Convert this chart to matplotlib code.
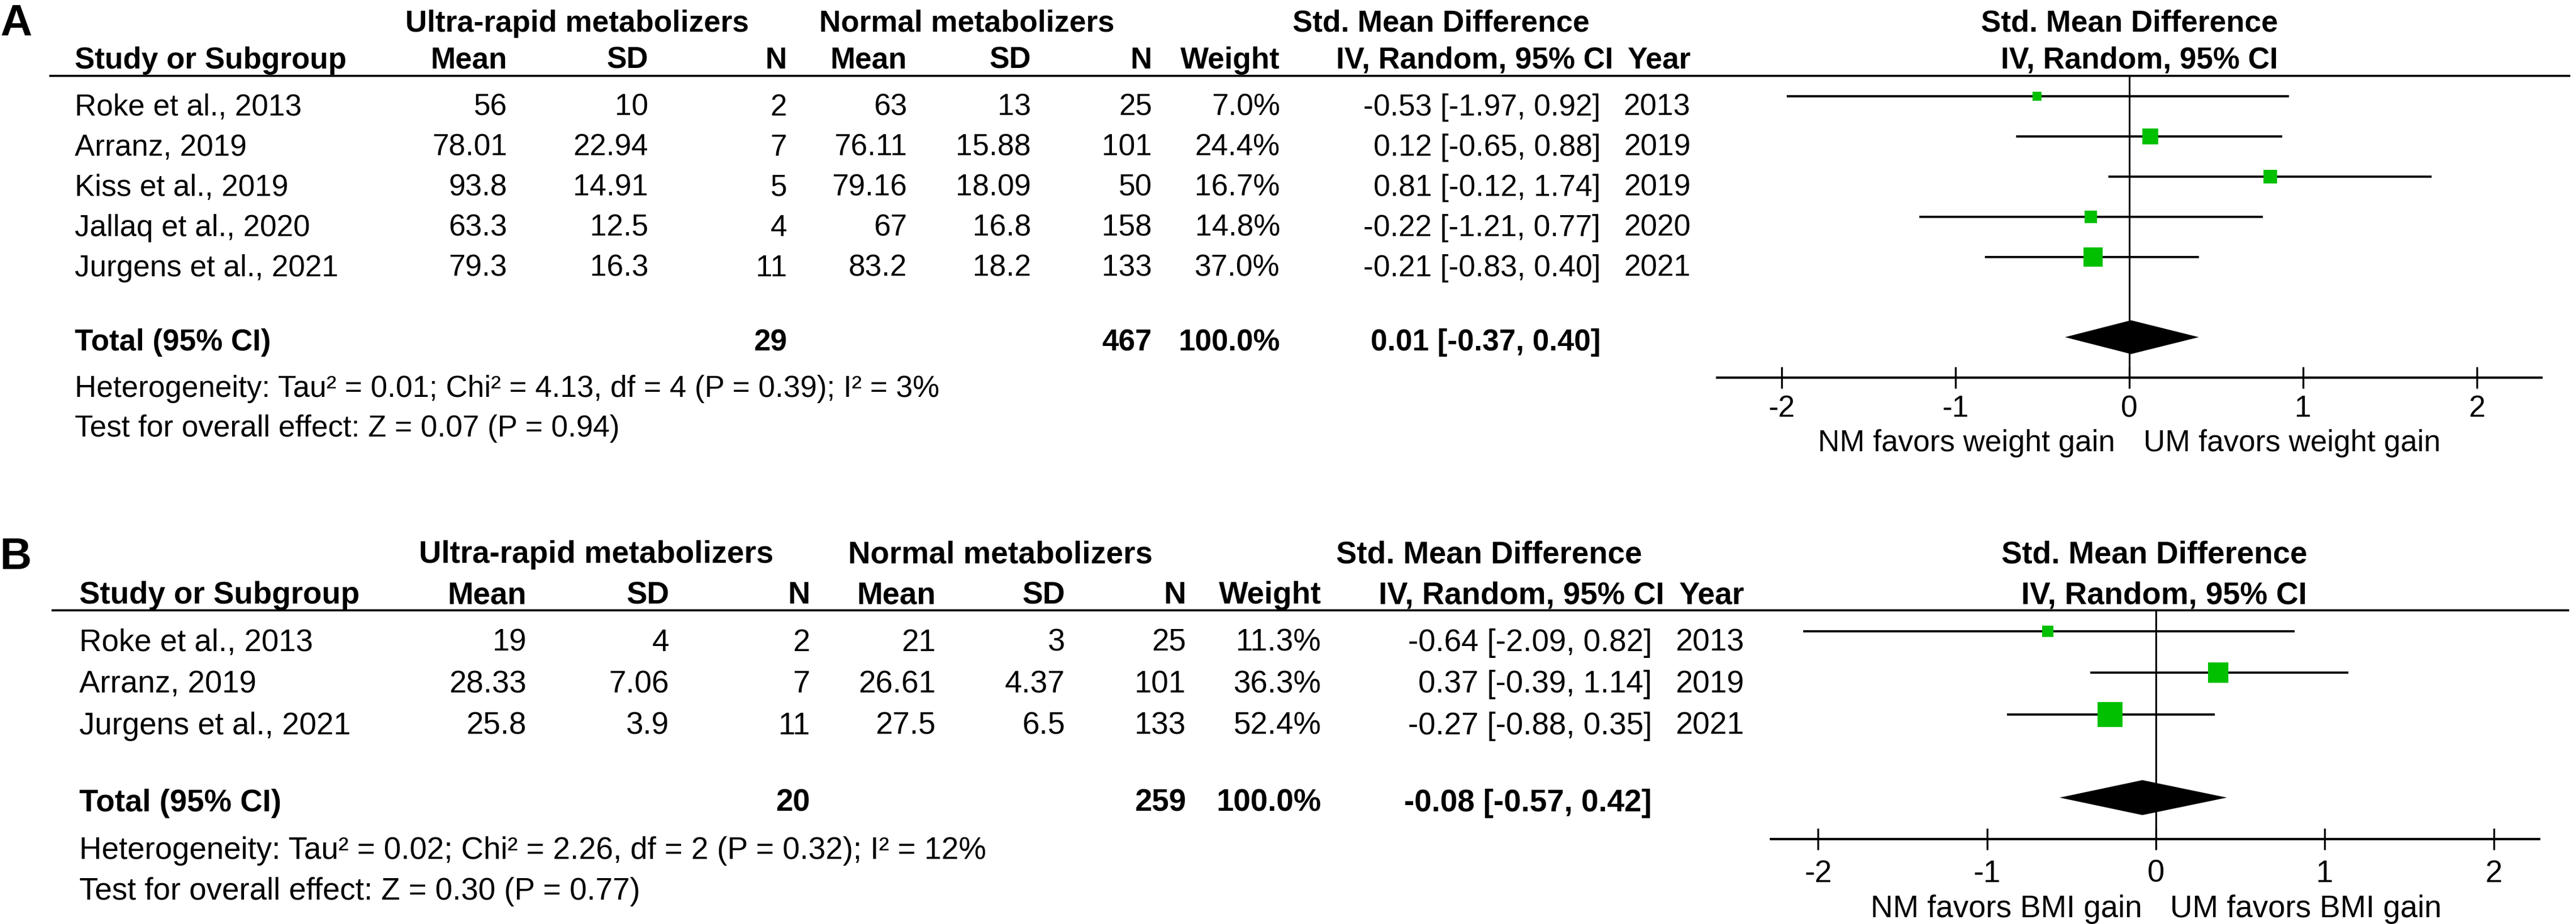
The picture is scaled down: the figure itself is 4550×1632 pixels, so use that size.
import numpy as np
import matplotlib
matplotlib.use('Agg')
import matplotlib.pyplot as plt

plt.rcParams['font.family'] = ['Liberation Sans', 'DejaVu Sans']

W, H, DPI = 4550, 1633, 100
GREEN = '#00c000'

# ---- panel A data (weight gain) ----
studies_a = ['Roke et al., 2013', 'Arranz, 2019', 'Kiss et al., 2019',
             'Jallaq et al., 2020', 'Jurgens et al., 2021']
um_mean_a = ['56', '78.01', '93.8', '63.3', '79.3']
um_sd_a = ['10', '22.94', '14.91', '12.5', '16.3']
um_n_a = [2, 7, 5, 4, 11]
nm_mean_a = ['63', '76.11', '79.16', '67', '83.2']
nm_sd_a = ['13', '15.88', '18.09', '16.8', '18.2']
nm_n_a = [25, 101, 50, 158, 133]
weight_a = [7.0, 24.4, 16.7, 14.8, 37.0]
smd_a = [-0.53, 0.12, 0.81, -0.22, -0.21]
lo_a = [-1.97, -0.65, -0.12, -1.21, -0.83]
hi_a = [0.92, 0.88, 1.74, 0.77, 0.40]
year_a = [2013, 2019, 2019, 2020, 2021]
total_a = dict(um_n=29, nm_n=467, weight=100.0, smd=0.01, lo=-0.37, hi=0.40)
het_a = 'Heterogeneity: Tau² = 0.01; Chi² = 4.13, df = 4 (P = 0.39); I² = 3%'
test_a = 'Test for overall effect: Z = 0.07 (P = 0.94)'
favors_a = ['NM favors weight gain', 'UM favors weight gain']

# ---- panel B data (BMI gain) ----
studies_b = ['Roke et al., 2013', 'Arranz, 2019', 'Jurgens et al., 2021']
um_mean_b = ['19', '28.33', '25.8']
um_sd_b = ['4', '7.06', '3.9']
um_n_b = [2, 7, 11]
nm_mean_b = ['21', '26.61', '27.5']
nm_sd_b = ['3', '4.37', '6.5']
nm_n_b = [25, 101, 133]
weight_b = [11.3, 36.3, 52.4]
smd_b = [-0.64, 0.37, -0.27]
lo_b = [-2.09, -0.39, -0.88]
hi_b = [0.82, 1.14, 0.35]
year_b = [2013, 2019, 2021]
total_b = dict(um_n=20, nm_n=259, weight=100.0, smd=-0.08, lo=-0.57, hi=0.42)
het_b = 'Heterogeneity: Tau² = 0.02; Chi² = 2.26, df = 2 (P = 0.32); I² = 12%'
test_b = 'Test for overall effect: Z = 0.30 (P = 0.77)'
favors_b = ['NM favors BMI gain', 'UM favors BMI gain']

tick_vals = [-2, -1, 0, 1, 2]
tick_labels = ['-2', '-1', '0', '1', '2']

# layout of each panel, in pixels (y grows downwards)
layout_a = dict(letter='A', letter_y=62, line_y=135, line_x=(87, 4540), row_h=71,
                group_y=37, head_y=102, fs=38.2, study_x=132,
                um_mean=896, um_sd=1145, um_n=1390, nm_mean=1602, nm_sd=1821,
                nm_n=2035, weight=2261, ci=2827, ci_head=2850, year=2986,
                g_um=1019, g_nm=1708, g_smd=2545,
                zero=3761, unit=307, xlim=(-2.37, 2.37), fhead_x=4024,
                sq=5.7, tick_pad=7.5, fav_dy=130, text_dy=14.5)
layout_b = dict(letter='B', letter_y=1005, line_y=1079, line_x=(91, 4538), row_h=73.5,
                group_y=975, head_y=1047, fs=39.3, study_x=140,
                um_mean=930, um_sd=1182, um_n=1431, nm_mean=1653, nm_sd=1881,
                nm_n=2095, weight=2334, ci=2918, ci_head=2940, year=3081,
                g_um=1053, g_nm=1767, g_smd=2630,
                zero=3808, unit=298.3, xlim=(-2.28, 2.27), fhead_x=4075,
                sq=6.0, tick_pad=11, fav_dy=137, text_dy=15)

fig = plt.figure(figsize=(W / DPI, H / DPI), dpi=DPI)
bg = fig.add_axes([0, 0, 1, 1])
bg.set_xlim(0, W)
bg.set_ylim(H, 0)
bg.axis('off')


def put(x, yc, s, fs, ha='left', bold=False):
    # yc is the centre of the capital letters
    base = yc + 0.35 * fs * DPI / 72
    bg.text(x, base, s, fontsize=fs, ha=ha, va='baseline',
            fontweight='bold' if bold else 'normal', color='black')


def draw_panel(L, studies, um_mean, um_sd, um_n, nm_mean, nm_sd, nm_n,
               weight, smd, lo, hi, year, total, het, test, favors):
    fs = L['fs']
    n = len(studies)
    bg.text(0, L['letter_y'], L['letter'], fontsize=56, fontweight='bold', va='baseline')

    # group headers
    put(L['g_um'], L['group_y'], 'Ultra-rapid metabolizers', fs, 'center', True)
    put(L['g_nm'], L['group_y'], 'Normal metabolizers', fs, 'center', True)
    put(L['g_smd'], L['group_y'], 'Std. Mean Difference', fs, 'center', True)
    put(L['fhead_x'], L['group_y'], 'Std. Mean Difference', fs, 'right', True)

    # column headers
    hy = L['head_y']
    put(L['study_x'], hy, 'Study or Subgroup', fs, 'left', True)
    for key, lab in [('um_mean', 'Mean'), ('um_sd', 'SD'), ('um_n', 'N'),
                     ('nm_mean', 'Mean'), ('nm_sd', 'SD'), ('nm_n', 'N'),
                     ('weight', 'Weight'), ('ci_head', 'IV, Random, 95% CI'),
                     ('year', 'Year')]:
        put(L[key], hy, lab, fs, 'right', True)
    put(L['fhead_x'], hy, 'IV, Random, 95% CI', fs, 'right', True)

    bg.plot(L['line_x'], [L['line_y'], L['line_y']], color='black', lw=2.6,
            solid_capstyle='butt')

    # study rows
    for i in range(n):
        yc = L['line_y'] + (i + 0.5) * L['row_h'] + L['text_dy']
        put(L['study_x'], yc, studies[i], fs)
        put(L['um_mean'], yc, um_mean[i], fs, 'right')
        put(L['um_sd'], yc, um_sd[i], fs, 'right')
        put(L['um_n'], yc, str(um_n[i]), fs, 'right')
        put(L['nm_mean'], yc, nm_mean[i], fs, 'right')
        put(L['nm_sd'], yc, nm_sd[i], fs, 'right')
        put(L['nm_n'], yc, str(nm_n[i]), fs, 'right')
        put(L['weight'], yc, f'{weight[i]:.1f}%', fs, 'right')
        put(L['ci'], yc, f'{smd[i]:.2f} [{lo[i]:.2f}, {hi[i]:.2f}]', fs, 'right')
        put(L['year'], yc, str(year[i]), fs, 'right')

    # total row and footnotes
    ty = L['line_y'] + (n + 1.5) * L['row_h'] + 4
    put(L['study_x'], ty, 'Total (95% CI)', fs, 'left', True)
    put(L['um_n'], ty, str(total['um_n']), fs, 'right', True)
    put(L['nm_n'], ty, str(total['nm_n']), fs, 'right', True)
    put(L['weight'], ty, f"{total['weight']:.1f}%", fs, 'right', True)
    put(L['ci'], ty, f"{total['smd']:.2f} [{total['lo']:.2f}, {total['hi']:.2f}]",
        fs, 'right', True)
    put(L['study_x'], ty + 82 * fs / 38.2, het, fs)
    put(L['study_x'], ty + 152 * fs / 38.2, test, fs)

    # forest plot axes
    x0, x1 = L['xlim']
    left = L['zero'] + x0 * L['unit']
    width = (x1 - x0) * L['unit']
    top = L['line_y']
    bottom = top + (n + 2.5) * L['row_h']
    ax = fig.add_axes([left / W, 1 - bottom / H, width / W, (bottom - top) / H])
    ax.set_xlim(x0, x1)
    ax.set_ylim(n + 2, -0.5)
    ax.patch.set_alpha(0)
    for s in ['top', 'left', 'right']:
        ax.spines[s].set_visible(False)
    ax.spines['bottom'].set_linewidth(3.0)

    ax.axvline(0, color='black', lw=2.2, zorder=1)
    rows = np.arange(n)
    ax.hlines(rows, lo, hi, color='black', lw=2.8, zorder=2)
    for r, e, w in zip(rows, smd, weight):
        ax.plot(e, r, marker='s', ms=L['sq'] * np.sqrt(w) * 72 / DPI,
                color=GREEN, mew=0, zorder=3)
    yt = n + 1
    ax.fill([total['lo'], total['smd'], total['hi'], total['smd']],
            [yt, yt - 0.42, yt, yt + 0.42], color='black', lw=0, zorder=3)

    ax.set_yticks([])
    ax.set_xticks(tick_vals)
    ax.set_xticklabels(tick_labels)
    ax.tick_params(axis='x', direction='inout', length=28, width=2.4,
                   pad=L['tick_pad'], labelsize=fs)

    dy = -L['fav_dy'] * 72 / DPI
    ax.annotate(favors[0], xy=(0, 0), xycoords=('data', 'axes fraction'),
                xytext=(-25 * 72 / DPI, dy), textcoords='offset points',
                ha='right', va='baseline', fontsize=fs)
    ax.annotate(favors[1], xy=(0, 0), xycoords=('data', 'axes fraction'),
                xytext=(25 * 72 / DPI, dy), textcoords='offset points',
                ha='left', va='baseline', fontsize=fs)


draw_panel(layout_a, studies_a, um_mean_a, um_sd_a, um_n_a, nm_mean_a, nm_sd_a,
           nm_n_a, weight_a, smd_a, lo_a, hi_a, year_a, total_a, het_a, test_a,
           favors_a)
draw_panel(layout_b, studies_b, um_mean_b, um_sd_b, um_n_b, nm_mean_b, nm_sd_b,
           nm_n_b, weight_b, smd_b, lo_b, hi_b, year_b, total_b, het_b, test_b,
           favors_b)

fig.savefig('out.png', dpi=DPI, facecolor='white')
